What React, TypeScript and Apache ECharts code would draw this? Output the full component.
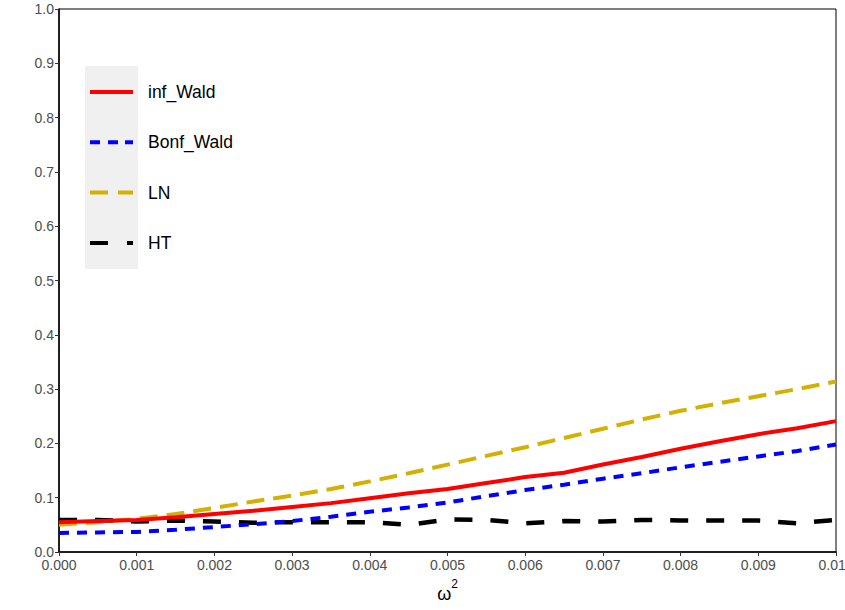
import React, { useEffect, useRef } from "react";
import * as echarts from "echarts";

const omega2 = [
  0, 0.0005, 0.001, 0.0015, 0.002, 0.0025, 0.003, 0.0035, 0.004, 0.0045, 0.005,
  0.0055, 0.006, 0.0065, 0.007, 0.0075, 0.008, 0.0085, 0.009, 0.0095, 0.01,
];
const infWald = [
  0.055, 0.057, 0.059, 0.064, 0.07, 0.076, 0.083, 0.09, 0.099, 0.108, 0.116,
  0.127, 0.138, 0.146, 0.161, 0.175, 0.19, 0.204, 0.217, 0.228, 0.241,
];
const bonfWald = [
  0.035, 0.036, 0.037, 0.041, 0.046, 0.051, 0.057, 0.065, 0.074, 0.082, 0.091,
  0.103, 0.114, 0.124, 0.135, 0.145, 0.156, 0.166, 0.176, 0.186, 0.198,
];
const ln = [
  0.05, 0.055, 0.061, 0.07, 0.081, 0.093, 0.104, 0.116, 0.13, 0.145, 0.161,
  0.177, 0.193, 0.21, 0.227, 0.244, 0.26, 0.274, 0.287, 0.3, 0.314,
];
const ht = [
  0.059, 0.059, 0.056, 0.058, 0.056, 0.054, 0.055, 0.055, 0.055, 0.05, 0.06,
  0.059, 0.053, 0.057, 0.056, 0.059, 0.058, 0.058, 0.058, 0.053, 0.059,
];
const seriesNames = ["inf_Wald", "Bonf_Wald", "LN", "HT"];
const seriesValues = [infWald, bonfWald, ln, ht];
const seriesColors = ["#ff0000", "#0000ff", "#d4b000", "#000000"];
const seriesDash: any[] = ["solid", [10, 8], [18, 9], [18, 18]];
const legendIcons = [
  "path://M0 0H43V4H0Z",
  "path://M0 0H10V4H0ZM18 0H28V4H18ZM35 0H43V4H35Z",
  "path://M0 0H18V4H0ZM28 0H43V4H28Z",
  "path://M0 0H18V4H0ZM37 0H43V4H37Z",
];

export default function App() {
  const ref = useRef<HTMLDivElement>(null);
  useEffect(() => {
    if (!ref.current) return;
    const chart = echarts.init(ref.current, null, { renderer: "svg" });
    const font = "Liberation Sans, Arial, Helvetica, sans-serif";
    chart.setOption({
      animation: false,
      backgroundColor: "#ffffff",
      grid: {
        left: 59,
        right: 9,
        top: 9,
        bottom: 58,
        outerBoundsMode: "none",
        containLabel: false,
        show: true,
        borderColor: "#000000",
        borderWidth: 1,
        backgroundColor: "transparent",
      },
      graphic: [
        {
          type: "rect",
          left: 85,
          top: 66,
          z: 0,
          shape: { width: 53, height: 203 },
          style: { fill: "#f0f0f0" },
        },
      ],
      legend: {
        orient: "vertical",
        left: 90,
        top: 83,
        itemWidth: 43,
        itemHeight: 14,
        itemGap: 32.3,
        padding: 0,
        z: 5,
        symbolKeepAspect: true,
        itemStyle: { borderWidth: 0 },
        textStyle: {
          fontFamily: font,
          fontSize: 17.5,
          color: "#000000",
          padding: [0, 0, 0, 10],
        },
        data: seriesNames.map((name, i) => ({
          name,
          icon: legendIcons[i],
          itemStyle: { color: seriesColors[i], borderWidth: 0 },
        })),
      },
      xAxis: {
        type: "value",
        min: 0,
        max: 0.01,
        interval: 0.001,
        name: "{w|ω}{s|2}",
        nameLocation: "middle",
        nameGap: 26,
        nameTextStyle: {
          rich: {
            w: { fontFamily: font, fontSize: 18, color: "#000000" },
            s: {
              fontFamily: font,
              fontSize: 12,
              color: "#000000",
              padding: [0, 0, 20, 0],
            },
          },
        },
        splitLine: { show: false },
        axisLine: { lineStyle: { color: "#000000", width: 1.5 } },
        axisTick: { length: 4, lineStyle: { color: "#333333", width: 1 } },
        axisLabel: {
          fontFamily: font,
          fontSize: 14,
          color: "#4d4d4d",
          margin: 6,
          formatter: (v: number) => v.toFixed(3),
        },
      },
      yAxis: {
        type: "value",
        min: 0,
        max: 1,
        interval: 0.1,
        splitLine: { show: false },
        axisLine: { show: true, lineStyle: { color: "#000000", width: 1.5 } },
        axisTick: { show: true, length: 4, lineStyle: { color: "#333333", width: 1 } },
        axisLabel: {
          fontFamily: font,
          fontSize: 14,
          color: "#4d4d4d",
          margin: 5,
          formatter: (v: number) => v.toFixed(1),
        },
      },
      series: seriesNames.map((name, i) => ({
        name,
        type: "line",
        symbol: "none",
        data: omega2.map((x, j) => [x, seriesValues[i][j]]),
        color: seriesColors[i],
        lineStyle: {
          color: seriesColors[i],
          width: i === 3 ? 4.5 : 4,
          type: seriesDash[i],
          cap: "butt",
        },
        z: 3 + (3 - i),
      })),
    });
    return () => chart.dispose();
  }, []);
  return (
    <div
      ref={ref}
      style={{ position: "fixed", left: 0, top: 0, width: 845, height: 610 }}
    />
  );
}
